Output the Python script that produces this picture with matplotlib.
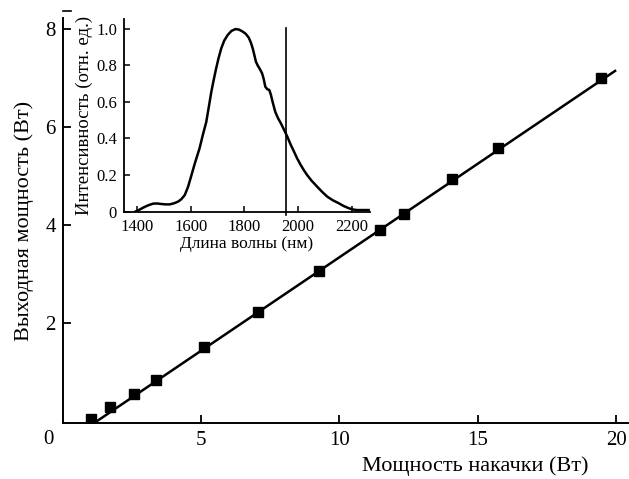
import matplotlib
matplotlib.use("Agg")
import matplotlib.pyplot as plt
from matplotlib.lines import Line2D

plt.rcParams['font.family'] = ['Liberation Serif', 'DejaVu Serif']

# Main data: pump power vs output power
pump_w = [1.03, 1.71, 2.59, 3.38, 5.11, 7.07, 9.28, 11.47, 12.34, 14.06, 15.74, 19.46]
out_w = [0.04, 0.29, 0.56, 0.85, 1.51, 2.24, 3.07, 3.90, 4.22, 4.94, 5.57, 7.00]
fit_x = [1.15, 20.0]
fit_y = [-0.03, 7.16]

# Inset spectrum
wl_nm = [1393, 1408, 1423, 1440, 1460, 1475, 1491, 1507, 1522, 1538, 1553, 1565, 1578,
         1590, 1603, 1615, 1633, 1645, 1658, 1667, 1677, 1686, 1695, 1704, 1714, 1725,
         1738, 1752, 1767, 1780, 1794, 1805, 1816, 1824, 1831, 1837, 1843, 1850, 1856,
         1866, 1872, 1878, 1885, 1893, 1899, 1905, 1915, 1925, 1936, 1948, 1960, 1972,
         1985, 1997, 2010, 2022, 2034, 2050, 2071, 2090, 2109, 2130, 2152, 2170, 2189,
         2205, 2220, 2240, 2263]
intensity = [0.0, 0.010, 0.022, 0.034, 0.044, 0.045, 0.042, 0.040, 0.040, 0.046, 0.055,
             0.068, 0.091, 0.135, 0.20, 0.262, 0.346, 0.418, 0.49, 0.568, 0.656, 0.722,
             0.784, 0.840, 0.893, 0.935, 0.966, 0.988, 0.998, 0.995, 0.984, 0.972, 0.952,
             0.925, 0.893, 0.857, 0.82, 0.798, 0.784, 0.756, 0.725, 0.683, 0.670, 0.665,
             0.638, 0.601, 0.546, 0.512, 0.483, 0.447, 0.41, 0.368, 0.328, 0.290, 0.255,
             0.226, 0.20, 0.170, 0.137, 0.108, 0.082, 0.062, 0.046, 0.031, 0.019, 0.012,
             0.009, 0.009, 0.009]
laser_nm = 1954
laser_top = 1.005

main_xticks = [5, 10, 15, 20]
main_yticks = [2, 4, 6, 8]
inset_xticks = [1400, 1600, 1800, 2000, 2200]
inset_yticks = [0, 0.2, 0.4, 0.6, 0.8, 1.0]
inset_ylabels = ['0', '0.2', '0.4', '0.6', '0.8', '1.0']

W, H = 629, 479
fig = plt.figure(figsize=(W / 100, H / 100), dpi=100)

# ---- main axes ----
ax = fig.add_axes([62.6 / W, (H - 423) / H, 565.4 / W, 405 / H])
ax.plot(fit_x, fit_y, color='black', lw=1.8, zorder=2, solid_capstyle='butt')
ax.plot(pump_w, out_w, linestyle='none', marker='s', ms=7, color='black', zorder=3)
ax.set_xlim(0, 20.43)
ax.set_ylim(-0.033, 8.225)
for s in ['top', 'right']:
    ax.spines[s].set_visible(False)
for s in ['left', 'bottom']:
    ax.spines[s].set_linewidth(1.4)
ax.set_xticks(main_xticks)
ax.set_yticks(main_yticks)
ax.set_xticklabels([str(v) for v in main_xticks])
ax.set_yticklabels([str(v) for v in main_yticks])
ax.tick_params(direction='in', length=6, width=1.3, labelsize=15, pad=6)
ax.tick_params(axis='y', pad=5)
ax.set_ylabel('Выходная мощность (Вт)', fontsize=16, labelpad=8)
fig.text(588 / W, 1 - 466 / H, 'Мощность накачки (Вт)', fontsize=16,
         ha='right', va='center')
fig.text(48 / W, 1 - 440 / H, '0', fontsize=15, ha='center', va='center')
fig.add_artist(Line2D([63 / W, 71 / W], [1 - 11 / H, 1 - 11 / H],
                      color='black', lw=1.2, transform=fig.transFigure))

# ---- inset axes ----
ins = fig.add_axes([124 / W, (H - 211.7) / H, 246 / W, 192.7 / H])
ins.patch.set_alpha(0)
ins.plot(wl_nm, intensity, color='black', lw=1.8)
ins.plot([laser_nm, laser_nm], [-0.02, laser_top], color='black', lw=1.2, clip_on=False)
ins.set_xlim(1351.6, 2268)
ins.set_ylim(0, 1.053)
for s in ['top', 'right']:
    ins.spines[s].set_visible(False)
for s in ['left', 'bottom']:
    ins.spines[s].set_linewidth(1.3)
ins.set_xticks(inset_xticks)
ins.set_yticks(inset_yticks)
ins.set_yticklabels(inset_ylabels)
ins.tick_params(direction='in', length=4, width=1.1, labelsize=12, pad=5)
ins.set_xlabel('Длина волны (нм)', fontsize=12.5, labelpad=1)
ins.set_ylabel('Интенсивность (отн. ед.)', fontsize=13.5, labelpad=2)

fig.savefig('out.png', dpi=100)
